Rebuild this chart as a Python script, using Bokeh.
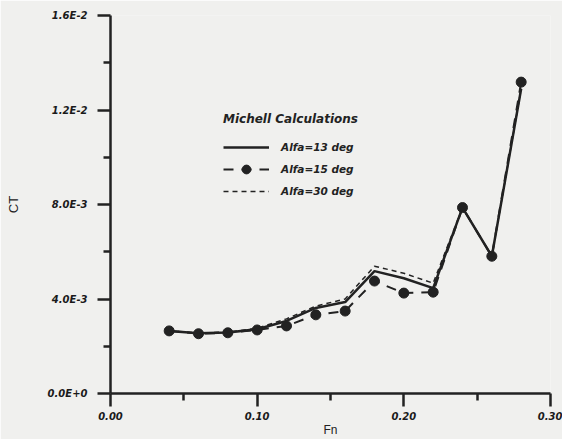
from bokeh.plotting import figure
from bokeh.models import FixedTicker, Legend, LegendItem, Range1d
from bokeh.embed import file_html
from bokeh.resources import INLINE

# ---- data ----
fn = [0.04, 0.06, 0.08, 0.10, 0.12, 0.14, 0.16, 0.18, 0.20, 0.22, 0.24, 0.26, 0.28]
ct_a13 = [2.65e-3, 2.55e-3, 2.58e-3, 2.72e-3, 3.07e-3, 3.62e-3, 3.87e-3, 5.18e-3, 4.88e-3, 4.46e-3, 7.87e-3, 5.81e-3, 12.9e-3]
ct_a15 = [2.65e-3, 2.53e-3, 2.57e-3, 2.69e-3, 2.86e-3, 3.33e-3, 3.49e-3, 4.76e-3, 4.25e-3, 4.29e-3, 7.87e-3, 5.81e-3, 13.18e-3]
ct_a30 = [2.66e-3, 2.56e-3, 2.60e-3, 2.76e-3, 3.16e-3, 3.70e-3, 4.00e-3, 5.39e-3, 5.09e-3, 4.67e-3, 7.87e-3, 5.81e-3, 12.9e-3]

series_names = ["Alfa=13 deg", "Alfa=15 deg", "Alfa=30 deg"]
legend_title = "Michell Calculations"

x_ticks = [0.0, 0.1, 0.2, 0.3]
x_tick_labels = ["0.00", "0.10", "0.20", "0.30"]
x_minor = [0.05, 0.15, 0.25]
y_ticks = [0.0, 0.004, 0.008, 0.012, 0.016]
y_tick_labels = ["0.0E+0", "4.0E-3", "8.0E-3", "1.2E-2", "1.6E-2"]
y_minor = [0.002, 0.006, 0.010, 0.014]

BG = "#f0f0ee"
INK = "#222222"

p = figure(width=562, height=439, output_backend="svg", toolbar_location=None,
           x_range=Range1d(0, 0.30), y_range=Range1d(0, 0.016),
           min_border_left=110, min_border_right=12, min_border_top=15, min_border_bottom=44)
p.background_fill_color = BG
p.border_fill_color = BG
p.outline_line_color = None
p.grid.visible = False

for ax in (p.xaxis[0], p.yaxis[0]):
    ax.axis_line_width = 2.5
    ax.axis_line_color = INK
    ax.major_tick_line_color = INK
    ax.minor_tick_line_color = INK
    ax.major_tick_line_width = 2.5
    ax.minor_tick_line_width = 2.5
    ax.major_tick_in = 0
    ax.major_tick_out = 13
    ax.minor_tick_in = 0
    ax.minor_tick_out = 7
    ax.major_label_text_font = "DejaVu Sans"
    ax.major_label_text_font_style = "bold italic"
    ax.major_label_text_font_size = "10px"
    ax.major_label_text_color = "#1a1a1a"
    ax.axis_label_text_font = "Liberation Sans"
    ax.axis_label_text_font_style = "normal"
    ax.axis_label_text_font_size = "13px"
    ax.axis_label_text_color = INK

p.xaxis.ticker = FixedTicker(ticks=x_ticks, minor_ticks=x_minor)
p.yaxis.ticker = FixedTicker(ticks=y_ticks, minor_ticks=y_minor)
p.xaxis.major_label_overrides = dict(zip(x_ticks, x_tick_labels))
p.yaxis.major_label_overrides = dict(zip(y_ticks, y_tick_labels))
p.xaxis.axis_label = "Fn"
p.yaxis.axis_label = "CT"
p.xaxis.axis_label_text_font_size = "12px"
p.xaxis.major_label_standoff = 5
p.yaxis.major_label_standoff = 10
p.xaxis.axis_label_standoff = 0
p.yaxis.axis_label_standoff = 24

r13 = p.line(fn, ct_a13, line_color=INK, line_width=2.5)
r15l = p.line(fn, ct_a15, line_color=INK, line_width=2, line_dash="10 8")
r15c = p.scatter(fn, ct_a15, size=10, fill_color=INK, line_color=INK)
r30 = p.line(fn, ct_a30, line_color=INK, line_width=1.5, line_dash="5 4")

legend = Legend(items=[LegendItem(label=series_names[0], renderers=[r13]),
                       LegendItem(label=series_names[1], renderers=[r15l, r15c]),
                       LegendItem(label=series_names[2], renderers=[r30])],
                location=(113, 191), title=legend_title)
legend.border_line_color = None
legend.background_fill_alpha = 0
legend.title_text_font = "DejaVu Sans"
legend.title_text_font_style = "bold italic"
legend.title_text_font_size = "12px"
legend.title_text_color = INK
legend.title_standoff = 10
legend.label_text_font = "DejaVu Sans"
legend.label_text_font_style = "bold italic"
legend.label_text_font_size = "10.5px"
legend.label_text_color = INK
legend.glyph_width = 46
legend.glyph_height = 22
legend.label_height = 22
legend.spacing = 0
legend.label_standoff = 12
p.add_layout(legend, "center")

open("out.html", "w").write(file_html(p, INLINE))
